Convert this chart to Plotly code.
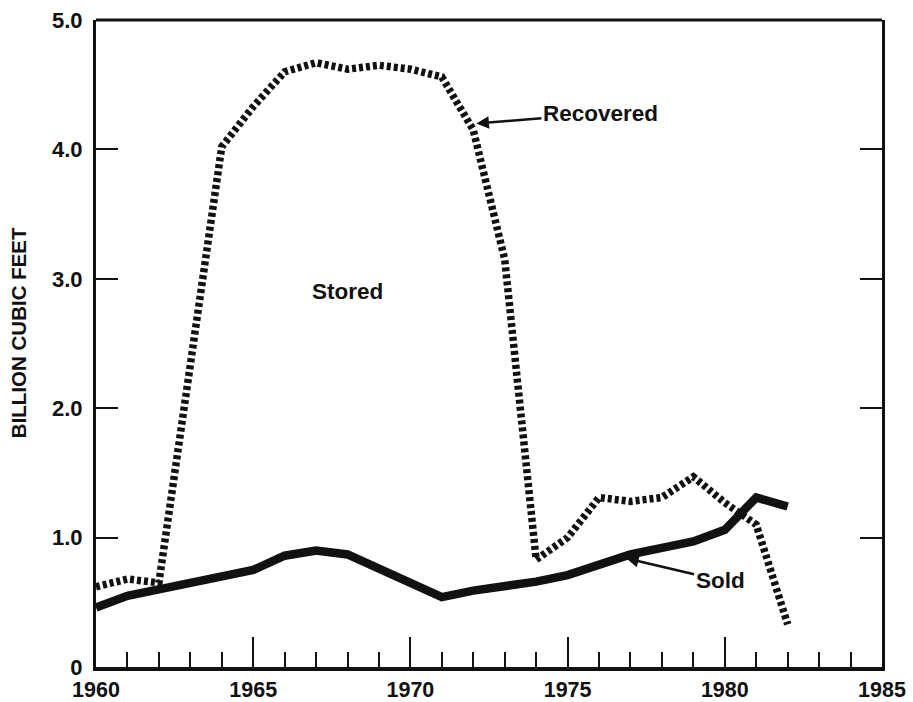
import plotly.graph_objects as go

# Annual gas volumes, billion cubic feet
years = list(range(1960, 1983))
sold = [0.46, 0.55, 0.60, 0.65, 0.70, 0.75, 0.86, 0.90, 0.87, 0.76, 0.65, 0.54,
        0.59, 0.62, 0.66, 0.71, 0.79, 0.87, 0.92, 0.97, 1.06, 1.31, 1.24]
recovered = [0.62, 0.68, 0.65, 2.33, 4.02, 4.33, 4.60, 4.67, 4.62, 4.65, 4.62, 4.56,
             4.15, 3.15, 0.83, 1.00, 1.31, 1.28, 1.31, 1.47, 1.27, 1.10, 0.33]

x_ticks = [1960, 1965, 1970, 1975, 1980, 1985]
y_ticks = [0, 1, 2, 3, 4, 5]
y_tick_text = ["0", "1.0", "2.0", "3.0", "4.0", "5.0"]

FONT = "Liberation Sans, Arial, sans-serif"
INK = "#111111"

fig = go.Figure()
fig.add_trace(go.Scatter(
    x=years, y=recovered, mode="lines", name="Recovered",
    line=dict(color=INK, width=7.5, dash="4px,3px"),
))
fig.add_trace(go.Scatter(
    x=years, y=sold, mode="lines", name="Sold",
    line=dict(color=INK, width=8.5),
))

label_font = dict(family=FONT, size=22.5, color=INK)

fig.add_annotation(x=1968.0, y=2.9, text="<b>Stored</b>", showarrow=False, font=label_font)
fig.add_annotation(x=1972.1, y=4.2, text="<b>Recovered</b>", font=label_font,
                   showarrow=True, ax=124, ay=-10, arrowhead=2, arrowsize=1.0,
                   arrowwidth=2.5, arrowcolor=INK, standoff=0)
fig.add_annotation(x=1976.86, y=0.84, text="<b>Sold</b>", font=label_font,
                   showarrow=True, ax=94, ay=22, arrowhead=2, arrowsize=1.0,
                   arrowwidth=2.5, arrowcolor=INK, standoff=0)

# vertical axis title
fig.add_annotation(xref="paper", yref="paper", x=0, y=0.516, xshift=-78,
                   xanchor="center", yanchor="middle",
                   text="<b>BILLION CUBIC FEET</b>", textangle=-90, showarrow=False,
                   font=dict(family=FONT, size=20.5, color=INK))

# top edge of the frame
fig.add_shape(type="line", xref="paper", yref="paper", x0=0, x1=1, y0=1, y1=1,
              line=dict(color=INK, width=3))

fig.update_layout(
    width=913, height=702,
    margin=dict(l=96, r=31, t=20, b=35),
    paper_bgcolor="white", plot_bgcolor="white",
    showlegend=False,
    font=dict(family=FONT, color=INK),
    xaxis=dict(
        range=[1960, 1985], tickvals=x_ticks,
        ticktext=[f"<b>{v}</b>" for v in x_ticks],
        ticks="inside", ticklen=30, tickwidth=2, tickcolor=INK,
        minor=dict(dtick=1, ticks="inside", ticklen=15, tickwidth=2, tickcolor=INK),
        showline=True, linewidth=4, linecolor=INK, mirror=False,
        showgrid=False, zeroline=False, automargin=False,
        tickfont=dict(family=FONT, size=21.5, color=INK),
        ticklabelstandoff=0,
    ),
    yaxis=dict(
        range=[0, 5], tickvals=y_ticks,
        ticktext=[f"<b>{t}</b>" for t in y_tick_text],
        ticks="inside", ticklen=22, tickwidth=2, tickcolor=INK,
        showline=True, linewidth=3, linecolor=INK, mirror="ticks",
        showgrid=False, zeroline=False, automargin=False,
        tickfont=dict(family=FONT, size=22, color=INK),
        ticklabelstandoff=6,
    ),
)

fig.write_html("out.html")
